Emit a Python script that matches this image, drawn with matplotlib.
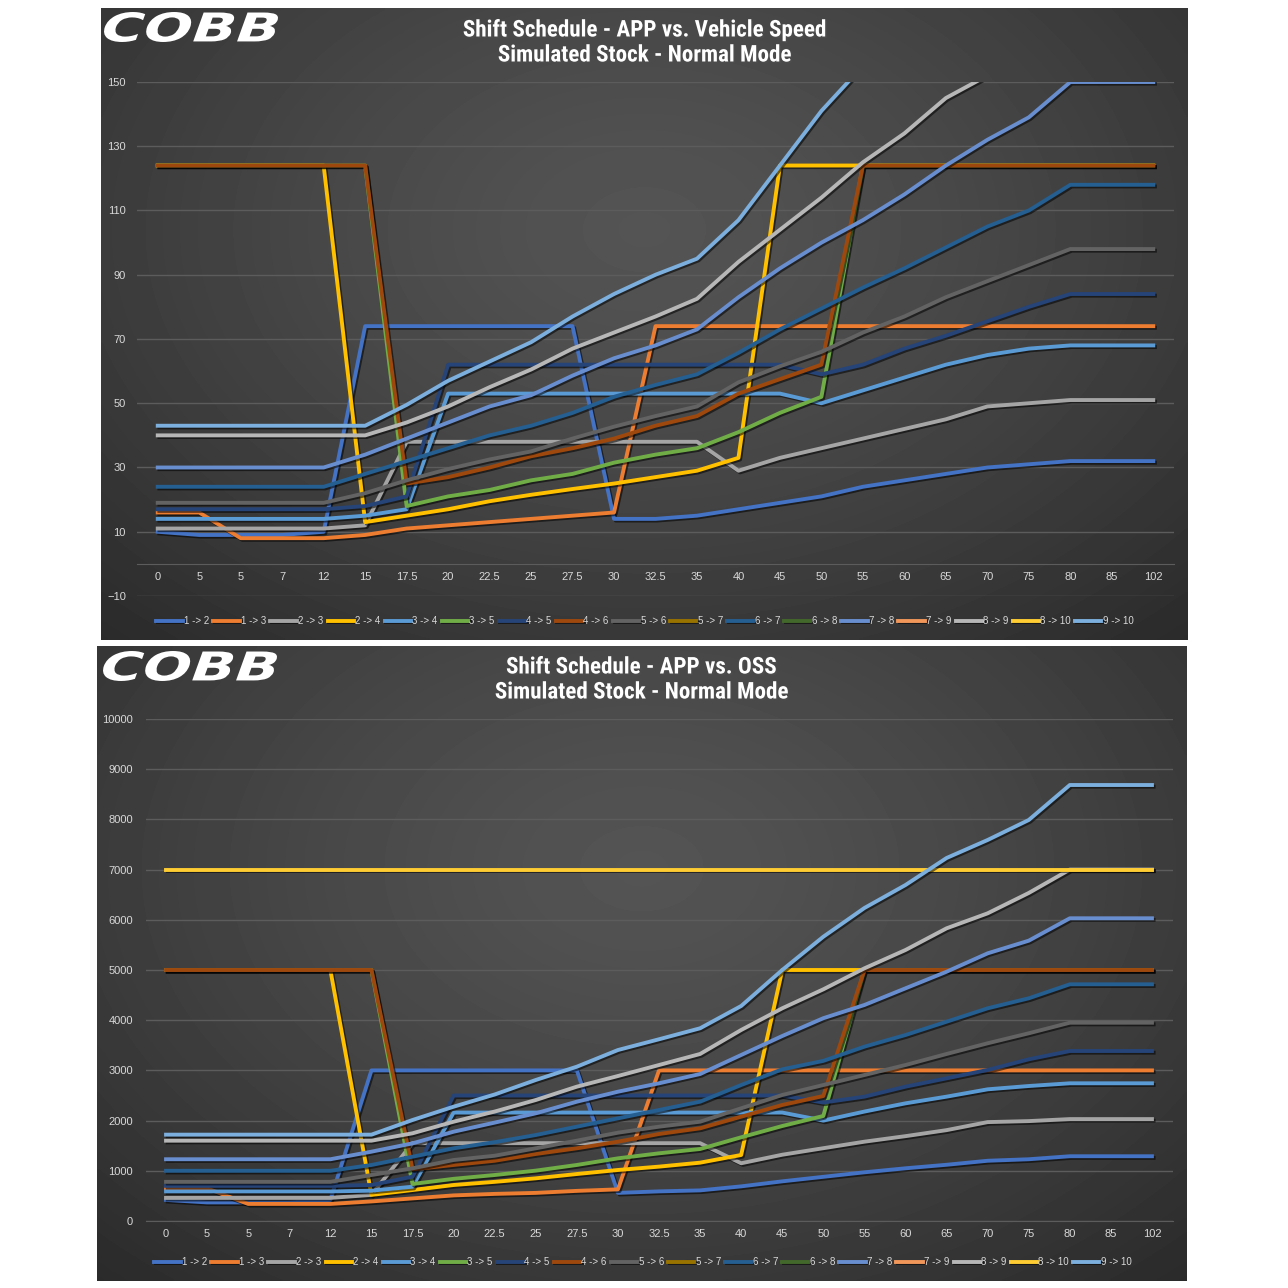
import numpy as np
import matplotlib
matplotlib.use('Agg')
import matplotlib.pyplot as plt
import matplotlib.patheffects as pe
from matplotlib import font_manager as fm
from matplotlib.textpath import TextPath
from matplotlib.patches import PathPatch
from matplotlib.transforms import Affine2D

speeds = ['0', '5', '5', '7', '12', '15', '17.5', '20', '22.5', '25', '27.5', '30', '32.5',
          '35', '40', '45', '50', '55', '60', '65', '70', '75', '80', '85', '102']
shifts = ['1 -> 2', '1 -> 3', '2 -> 3', '2 -> 4', '3 -> 4', '3 -> 5', '4 -> 5', '4 -> 6', '5 -> 6',
          '5 -> 7', '6 -> 7', '6 -> 8', '7 -> 8', '7 -> 9', '8 -> 9', '8 -> 10', '9 -> 10']
colors = ['#4472C4', '#ED7D31', '#A5A5A5', '#FFC000', '#5B9BD5', '#70AD47', '#264478', '#9E480E',
          '#636363', '#997300', '#255E91', '#43682B', '#698ED0', '#F1975A', '#B7B7B7', '#FFCD33', '#7CAFDD']

# APP vs. vehicle speed
vs_12 = [10, 9, 9, 9, 10, 74, 74, 74, 74, 74, 74, 14, 14, 15, 17, 19, 21, 24, 26, 28, 30, 31, 32, 32, 32]
vs_13 = [16, 16, 8, 8, 8, 9, 11, 12, 13, 14, 15, 16, 74, 74, 74, 74, 74, 74, 74, 74, 74, 74, 74, 74, 74]
vs_23 = [11, 11, 11, 11, 11, 12, 38, 38, 38, 38, 38, 38, 38, 38, 29, 33, 36, 39, 42, 45, 49, 50, 51, 51, 51]
vs_24 = [124, 124, 124, 124, 124, 13, 15, 17, 19.5, 21.5, 23.3, 25, 27, 29, 33, 124, 124, 124, 124, 124,
         124, 124, 124, 124, 124]
vs_34 = [14, 14, 14, 14, 14, 15, 17, 53, 53, 53, 53, 53, 53, 53, 53, 53, 50, 54, 58, 62, 65, 67, 68, 68, 68]
vs_35 = [124, 124, 124, 124, 124, 124, 18, 21, 23, 26, 28, 31.5, 34, 36, 41, 47, 52, 124, 124, 124,
         124, 124, 124, 124, 124]
vs_45 = [17, 17, 17, 17, 17, 18, 21, 62, 62, 62, 62, 62, 62, 62, 62, 62, 59, 62, 67, 71, 75.5, 80, 84, 84, 84]
vs_46 = [124, 124, 124, 124, 124, 124, 25, 27, 30, 33.5, 36, 39, 43, 46, 53, 57.5, 62, 124, 124, 124,
         124, 124, 124, 124, 124]
vs_56 = [19, 19, 19, 19, 19, 22, 26, 29.5, 32.5, 35, 39, 42.7, 46, 49, 56.5, 61.5, 66, 72, 77, 83, 88,
         93, 98, 98, 98]
vs_57 = []
vs_67 = [24, 24, 24, 24, 24, 28, 32, 36, 40, 43, 47, 52, 55.7, 59, 65.7, 73, 79.5, 86, 92, 98.5, 105,
         110, 118, 118, 118]
vs_68 = []
vs_78 = [30, 30, 30, 30, 30, 34, 39, 44, 49, 52.5, 58.6, 64, 68, 73, 83, 92, 100, 107, 115, 124, 132,
         139, 150, 150, 150]
vs_79 = []
vs_89 = [40, 40, 40, 40, 40, 40, 44, 49, 55, 60.5, 67, 72, 77, 82.5, 94, 104, 114, 125, 134, 145, 152,
         162, 174, 174, 174]
vs_810 = [174, 174, 174, 174, 174, 174, 174, 174, 174, 174, 174, 174, 174, 174, 174, 174, 174, 174, 174,
          174, 174, 174, 174, 174, 174]
vs_910 = [43, 43, 43, 43, 43, 43, 49.5, 57, 63, 69, 77, 84, 90, 95, 107, 124, 141, 155, 166, 179, 188,
          198, 215, 215, 215]

# APP vs. OSS
oss_12 = [420, 370, 370, 370, 420, 3000, 3000, 3000, 3000, 3000, 3000, 560, 590, 610, 690, 790, 880, 970,
          1050, 1120, 1200, 1230, 1290, 1290, 1290]
oss_13 = [650, 650, 340, 340, 340, 390, 450, 510, 540, 560, 600, 630, 3000, 3000, 3000, 3000, 3000, 3000,
          3000, 3000, 3000, 3000, 3000, 3000, 3000]
oss_23 = [460, 460, 460, 460, 460, 520, 1550, 1550, 1550, 1550, 1550, 1550, 1550, 1550, 1150, 1320, 1450,
          1580, 1690, 1810, 1970, 1990, 2030, 2030, 2030]
oss_24 = [5000, 5000, 5000, 5000, 5000, 520, 617, 717, 780, 850, 936, 1016, 1083, 1162, 1315, 5000, 5000,
          5000, 5000, 5000, 5000, 5000, 5000, 5000, 5000]
oss_34 = [590, 590, 590, 590, 590, 604, 683, 2160, 2160, 2160, 2160, 2160, 2160, 2160, 2160, 2160, 2000,
          2180, 2344, 2477, 2623, 2689, 2743, 2743, 2743]
oss_35 = [5000, 5000, 5000, 5000, 5000, 5000, 737, 840, 916, 1003, 1116, 1248, 1348, 1434, 1667, 1892,
          2092, 5000, 5000, 5000, 5000, 5000, 5000, 5000, 5000]
oss_45 = [700, 700, 700, 700, 700, 717, 883, 2500, 2500, 2500, 2500, 2500, 2500, 2500, 2500, 2500, 2360,
          2477, 2676, 2842, 3008, 3221, 3386, 3386, 3386]
oss_46 = [5000, 5000, 5000, 5000, 5000, 5000, 1029, 1116, 1200, 1335, 1448, 1580, 1733, 1846, 2078, 2311,
          2490, 5000, 5000, 5000, 5000, 5000, 5000, 5000, 5000]
oss_56 = [780, 780, 780, 780, 780, 916, 1049, 1215, 1300, 1448, 1600, 1759, 1879, 1978, 2245, 2510, 2709,
          2908, 3107, 3327, 3540, 3739, 3950, 3950, 3950]
oss_57 = []
oss_67 = [1000, 1000, 1000, 1000, 1000, 1116, 1281, 1448, 1570, 1713, 1879, 2045, 2211, 2377, 2709, 3021,
          3190, 3473, 3705, 3970, 4237, 4436, 4715, 4715, 4715]
oss_68 = []
oss_78 = [1230, 1230, 1230, 1230, 1230, 1381, 1547, 1779, 1960, 2145, 2377, 2576, 2743, 2928, 3307, 3685,
          4040, 4303, 4635, 4966, 5332, 5584, 6030, 6030, 6030]
oss_79 = []
oss_89 = [1600, 1600, 1600, 1600, 1600, 1600, 1747, 1978, 2180, 2410, 2676, 2888, 3107, 3327, 3805, 4237,
          4615, 5033, 5398, 5830, 6129, 6534, 7000, 7000, 7000]
oss_810 = [7000, 7000, 7000, 7000, 7000, 7000, 7000, 7000, 7000, 7000, 7000, 7000, 7000, 7000, 7000, 7000,
           7000, 7000, 7000, 7000, 7000, 7000, 7000, 7000, 7000]
oss_910 = [1720, 1720, 1720, 1720, 1720, 1720, 2012, 2277, 2520, 2809, 3074, 3406, 3620, 3839, 4283, 5000,
           5663, 6235, 6693, 7231, 7590, 7988, 8685, 8685, 8685]

vs_data = [vs_12, vs_13, vs_23, vs_24, vs_34, vs_35, vs_45, vs_46, vs_56, vs_57, vs_67, vs_68,
           vs_78, vs_79, vs_89, vs_810, vs_910]
oss_data = [oss_12, oss_13, oss_23, oss_24, oss_34, oss_35, oss_45, oss_46, oss_56, oss_57, oss_67,
            oss_68, oss_78, oss_79, oss_89, oss_810, oss_910]

installed = {f.name for f in fm.fontManager.ttflist}
narrow = next((n for n in ['Liberation Sans Narrow', 'Roboto Condensed', 'Open Sans Condensed']
               if n in installed), None)
title_font = narrow or 'Liberation Sans'
title_size = 16.6 if narrow else 13.5

W = H = 1288
fig = plt.figure(figsize=(W / 100, H / 100), dpi=100)
fig.patch.set_facecolor('white')

bg = fig.add_axes([0, 0, 1, 1], zorder=0)
bg.axis('off')

GRID = '#5c5c5c'
TXT = '#d9d9d9'


def panel(x0, y0, x1, y1):
    yy, xx = np.mgrid[0:1:200j, 0:1:300j]
    d = np.sqrt(((xx - 0.5) / 0.8) ** 2 + ((yy - 0.35) / 0.95) ** 2)
    v = 0.33 - 0.18 * np.clip(d, 0, 1) ** 1.3
    bg.imshow(v, cmap='gray', vmin=0, vmax=1, extent=(x0, x1, y1, y0), aspect='auto',
              interpolation='bilinear', zorder=0)


def logo(x0, y0, x1, y1):
    tp = TextPath((0, 0), 'COBB', size=1, prop=fm.FontProperties(family='DejaVu Sans', weight='bold'))
    tp = Affine2D().skew_deg(14, 0).transform_path(tp)
    b = tp.get_extents()
    t = Affine2D().translate(-b.x0, -b.y1).scale((x1 - x0) / b.width, -(y1 - y0) / b.height).translate(x0, y0)
    bg.add_patch(PathPatch(t.transform_path(tp), fc='white', ec='none', zorder=2))


def titles(cx, y, lines):
    for i, s in enumerate(lines):
        bg.text(cx, y + 25 * i, s, ha='center', va='center', color='white', fontweight='bold',
                family=title_font, fontsize=title_size, zorder=3,
                path_effects=[pe.SimplePatchShadow(offset=(1.2, -1.2), alpha=0.9), pe.Normal()])


panel(101, 8, 1188, 640)
panel(97, 646, 1187, 1281)
logo(104, 12, 278, 42)
logo(103, 651, 277, 681)
titles(644, 30, ['Shift Schedule - APP vs. Vehicle Speed', 'Simulated Stock - Normal Mode'])
titles(641, 667, ['Shift Schedule - APP vs. OSS', 'Simulated Stock - Normal Mode'])
bg.set_xlim(0, W)
bg.set_ylim(H, 0)

shadow = [pe.SimpleLineShadow(offset=(1.2, -1.2), shadow_color='black', alpha=0.55), pe.Normal()]


def chart(px, data, ylim, yticks, axis_at, legend_xy, ypad):
    x0, y0, x1, y1 = px
    ax = fig.add_axes([x0 / W, 1 - y1 / H, (x1 - x0) / W, (y1 - y0) / H], zorder=2)
    ax.set_facecolor('none')
    for vals, c, lab in zip(data, colors, shifts):
        ax.plot(range(len(vals)), vals, color=c, lw=2.8, label=lab, path_effects=shadow)
    ax.set_xlim(-0.5, len(speeds) - 0.5)
    ax.set_ylim(*ylim)
    ax.set_yticks(yticks)
    ax.set_xticks(range(len(speeds)), speeds)
    ax.yaxis.grid(True, color=GRID, lw=1)
    ax.set_axisbelow(True)
    for s in ['left', 'right', 'top']:
        ax.spines[s].set_visible(False)
    ax.spines['bottom'].set_position(('data', axis_at))
    ax.spines['bottom'].set_color(GRID)
    ax.tick_params(axis='both', length=0, colors=TXT, labelsize=8)
    ax.tick_params(axis='x', pad=6)
    ax.tick_params(axis='y', pad=ypad)
    for lbl in ax.get_xticklabels() + ax.get_yticklabels():
        lbl.set_family('Liberation Sans')
    ax.legend(loc='center', bbox_to_anchor=(legend_xy[0] / W, 1 - legend_xy[1] / H),
              bbox_transform=fig.transFigure, ncol=len(shifts), frameon=False,
              prop={'family': 'Liberation Sans', 'size': 7}, labelcolor=TXT,
              handlelength=2.7, handletextpad=0.15, columnspacing=0.42)
    return ax


chart((137, 82, 1174, 596), vs_data, (-10, 150), [-10, 10, 30, 50, 70, 90, 110, 130, 150], 0,
      (645, 621), 8)
chart((145.5, 719, 1172.5, 1221), oss_data, (0, 10000),
      [0, 1000, 2000, 3000, 4000, 5000, 6000, 7000, 8000, 9000, 10000], 0, (643, 1262), 9)

fig.savefig('out.png', dpi=100, facecolor='white')
